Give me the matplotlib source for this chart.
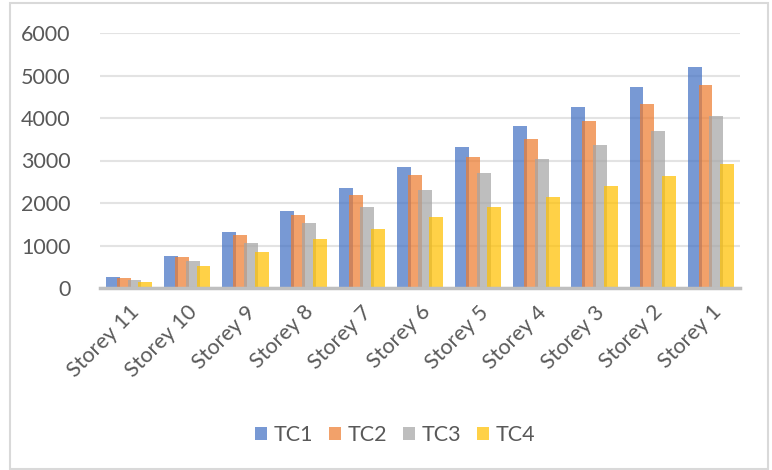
import matplotlib
matplotlib.use("Agg")
import matplotlib.pyplot as plt
from matplotlib.patches import Rectangle
import numpy as np

categories = ["Storey 11", "Storey 10", "Storey 9", "Storey 8", "Storey 7", "Storey 6",
              "Storey 5", "Storey 4", "Storey 3", "Storey 2", "Storey 1"]
tc1 = [252, 760, 1310, 1820, 2361, 2847, 3325, 3812, 4267, 4722, 5200]
tc2 = [228, 722, 1239, 1725, 2180, 2667, 3090, 3506, 3929, 4322, 4776]
tc3 = [188, 643, 1067, 1522, 1906, 2306, 2698, 3027, 3357, 3694, 4055]
tc4 = [148, 518, 855, 1153, 1396, 1663, 1906, 2149, 2392, 2635, 2910]
series_names = ["TC1", "TC2", "TC3", "TC4"]
yticks = [0, 1000, 2000, 3000, 4000, 5000, 6000]

colors = ["#4472C4", "#ED7D31", "#A5A5A5", "#FFC000"]
plt.rcParams['font.family'] = ['Lato', 'DejaVu Sans']
text_color = "#595959"

fig = plt.figure(figsize=(7.72, 4.70), dpi=100)
ax = fig.add_axes([100/772, 1-288/470, 640/772, 255/470])

x = np.arange(len(categories))
step = 0.186
width = 0.24
for j, (vals, name) in enumerate(zip([tc1, tc2, tc3, tc4], series_names)):
    ax.bar(x + (j - 1.5) * step, vals, width=width, color=colors[j], alpha=0.72,
           label=name, zorder=3, linewidth=0)

ax.set_xlim(-0.5, len(categories) - 0.5)
ax.set_ylim(0, 6000)
ax.set_yticks(yticks)
ax.set_yticklabels([str(v) for v in yticks], fontsize=15.5, color=text_color)
ax.set_xticks(x)
ax.set_xticklabels(categories, rotation=45, ha="right", rotation_mode="anchor",
                   fontsize=15.5, color=text_color)
ax.tick_params(axis="both", length=0)
ax.tick_params(axis="y", pad=21)
ax.tick_params(axis="x", pad=10)
ax.yaxis.grid(True, color="#E3E3E3", linewidth=1.5, zorder=0)
ax.set_axisbelow(True)
for s in ["top", "right", "left"]:
    ax.spines[s].set_visible(False)
ax.spines["bottom"].set_color("#BFBFBF")
ax.spines["bottom"].set_linewidth(2.5)
ax.spines["bottom"].set_zorder(4)

leg = fig.legend(loc="center", bbox_to_anchor=(395/772, 1-435/470), ncol=4,
                 frameon=False, fontsize=15.5, handlelength=0.55, handleheight=0.55,
                 handletextpad=0.3, columnspacing=0.75)
for t in leg.get_texts():
    t.set_color(text_color)

fig.patches.append(Rectangle((10/772, 1/470), 758/772, 466/470, transform=fig.transFigure,
                             fill=False, edgecolor="#D9D9D9", linewidth=1.5))

fig.savefig("out.png", dpi=100)
